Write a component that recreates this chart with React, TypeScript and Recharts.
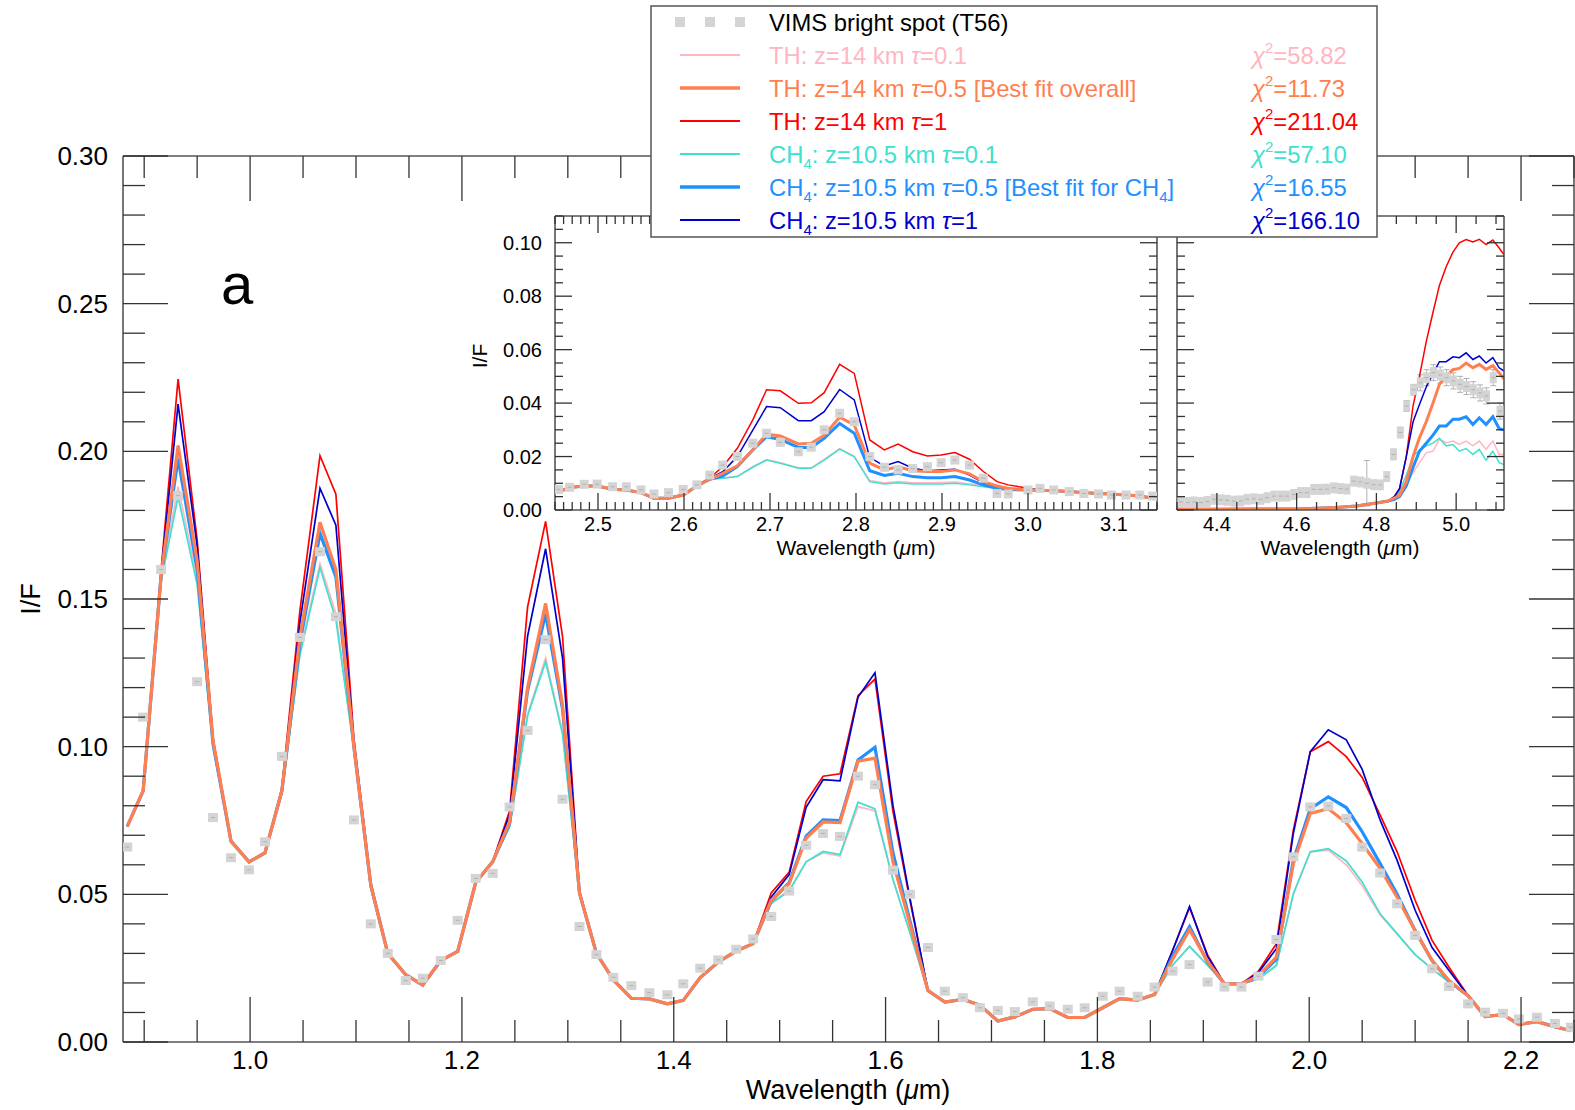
import React from 'react';
import { ComposedChart, Line, XAxis, YAxis, ErrorBar } from 'recharts';

const FONT = '"Liberation Sans", Arial, Helvetica, sans-serif';
const FRAME = '#555555';
const TICK = '#333333';
const C = { pink: '#ffb6c1', coral: '#ff7f50', red: '#ff0000', turq: '#40e0d0', dodger: '#1e90ff', navy: '#0000cd', gray: '#d4d4d4' };

// ---------------- main panel (0.88 - 2.25 um) ----------------
const mainWavelength = [0.884, 0.899, 0.916, 0.932, 0.950, 0.965, 0.982, 0.999, 1.014, 1.030,
  1.047, 1.066, 1.081, 1.098, 1.114, 1.130, 1.147, 1.163, 1.180, 1.196,
  1.213, 1.229, 1.245, 1.262, 1.279, 1.295, 1.311, 1.327, 1.343, 1.360,
  1.377, 1.394, 1.409, 1.425, 1.442, 1.459, 1.475, 1.492, 1.509, 1.525,
  1.541, 1.557, 1.574, 1.590, 1.607, 1.623, 1.640, 1.656, 1.673, 1.689,
  1.706, 1.722, 1.739, 1.755, 1.772, 1.788, 1.805, 1.821, 1.838, 1.854,
  1.871, 1.887, 1.904, 1.920, 1.936, 1.952, 1.969, 1.985, 2.001, 2.018,
  2.035, 2.050, 2.067, 2.083, 2.100, 2.116, 2.132, 2.150, 2.166, 2.183,
  2.198, 2.215, 2.232, 2.247];
const mainVims = [0.0660, 0.1100, 0.1600, 0.1850, 0.1220, 0.0760, 0.0624, 0.0583, 0.0678, 0.0967,
  0.1370, 0.1660, 0.1440, 0.0752, 0.0400, 0.0300, 0.0208, 0.0216, 0.0276, 0.0412,
  0.0554, 0.0571, 0.0796, 0.1055, 0.1362, 0.0822, 0.0391, 0.0296, 0.0219, 0.0191,
  0.0167, 0.0160, 0.0197, 0.0250, 0.0278, 0.0314, 0.0349, 0.0425, 0.0511, 0.0666,
  0.0706, 0.0696, 0.0900, 0.0871, 0.0582, 0.0500, 0.0320, 0.0172, 0.0150, 0.0116,
  0.0107, 0.0103, 0.0136, 0.0122, 0.0111, 0.0116, 0.0155, 0.0172, 0.0155, 0.0186,
  0.0240, 0.0262, 0.0203, 0.0186, 0.0186, 0.0223, 0.0347, 0.0627, 0.0796, 0.0799,
  0.0757, 0.0660, 0.0572, 0.0468, 0.0361, 0.0248, 0.0188, 0.0129, 0.0101, 0.0097,
  0.0078, 0.0084, 0.0063, 0.0050];
const mainThTau05 = [0.0730, 0.0850, 0.1580, 0.2020, 0.1630, 0.1020, 0.0680, 0.0610, 0.0640, 0.0850,
  0.1370, 0.1760, 0.1600, 0.1000, 0.0530, 0.0300, 0.0228, 0.0193, 0.0276, 0.0307,
  0.0540, 0.0610, 0.0745, 0.1200, 0.1485, 0.1140, 0.0505, 0.0300, 0.0210, 0.0148,
  0.0146, 0.0129, 0.0141, 0.0218, 0.0271, 0.0308, 0.0333, 0.0480, 0.0536, 0.0690,
  0.0745, 0.0743, 0.0951, 0.0961, 0.0610, 0.0400, 0.0174, 0.0135, 0.0144, 0.0125,
  0.0071, 0.0085, 0.0111, 0.0113, 0.0083, 0.0083, 0.0116, 0.0147, 0.0142, 0.0161,
  0.0280, 0.0380, 0.0273, 0.0197, 0.0197, 0.0223, 0.0288, 0.0604, 0.0774, 0.0790,
  0.0742, 0.0672, 0.0587, 0.0490, 0.0377, 0.0276, 0.0208, 0.0157, 0.0086, 0.0093,
  0.0059, 0.0069, 0.0052, 0.0038];
const mainThTau1 = [0.0730, 0.0850, 0.1600, 0.2245, 0.1700, 0.1030, 0.0680, 0.0610, 0.0640, 0.0860,
  0.1460, 0.1985, 0.1855, 0.1030, 0.0540, 0.0300, 0.0228, 0.0193, 0.0276, 0.0307,
  0.0540, 0.0610, 0.0782, 0.1473, 0.1763, 0.1373, 0.0510, 0.0300, 0.0210, 0.0148,
  0.0146, 0.0129, 0.0141, 0.0218, 0.0271, 0.0308, 0.0333, 0.0505, 0.0575, 0.0814,
  0.0900, 0.0908, 0.1173, 0.1229, 0.0780, 0.0480, 0.0174, 0.0135, 0.0144, 0.0125,
  0.0071, 0.0085, 0.0111, 0.0113, 0.0083, 0.0083, 0.0116, 0.0147, 0.0142, 0.0161,
  0.0310, 0.0455, 0.0295, 0.0197, 0.0197, 0.0240, 0.0333, 0.0717, 0.0983, 0.1017,
  0.0966, 0.0896, 0.0768, 0.0644, 0.0480, 0.0344, 0.0253, 0.0157, 0.0086, 0.0093,
  0.0059, 0.0069, 0.0052, 0.0038];
const mainCh4Tau1 = [0.0730, 0.0850, 0.1590, 0.2160, 0.1680, 0.1020, 0.0680, 0.0610, 0.0640, 0.0850,
  0.1420, 0.1875, 0.1750, 0.1010, 0.0530, 0.0300, 0.0228, 0.0193, 0.0276, 0.0307,
  0.0540, 0.0610, 0.0770, 0.1374, 0.1670, 0.1300, 0.0510, 0.0300, 0.0210, 0.0148,
  0.0146, 0.0129, 0.0141, 0.0218, 0.0271, 0.0308, 0.0333, 0.0490, 0.0567, 0.0795,
  0.0888, 0.0884, 0.1168, 0.1250, 0.0800, 0.0487, 0.0174, 0.0135, 0.0144, 0.0125,
  0.0071, 0.0085, 0.0111, 0.0113, 0.0083, 0.0083, 0.0116, 0.0147, 0.0142, 0.0161,
  0.0310, 0.0459, 0.0290, 0.0197, 0.0197, 0.0235, 0.0316, 0.0706, 0.0983, 0.1057,
  0.1023, 0.0923, 0.0751, 0.0615, 0.0446, 0.0320, 0.0242, 0.0157, 0.0086, 0.0093,
  0.0059, 0.0069, 0.0052, 0.0038];
const mainCh4Tau05 = [0.0730, 0.0850, 0.1580, 0.1976, 0.1600, 0.1010, 0.0680, 0.0610, 0.0640, 0.0850,
  0.1350, 0.1722, 0.1575, 0.1000, 0.0530, 0.0300, 0.0228, 0.0193, 0.0276, 0.0307,
  0.0540, 0.0610, 0.0740, 0.1190, 0.1450, 0.1128, 0.0505, 0.0300, 0.0210, 0.0148,
  0.0146, 0.0129, 0.0141, 0.0218, 0.0271, 0.0308, 0.0333, 0.0478, 0.0540, 0.0697,
  0.0752, 0.0750, 0.0955, 0.0998, 0.0640, 0.0410, 0.0174, 0.0135, 0.0144, 0.0125,
  0.0071, 0.0085, 0.0111, 0.0113, 0.0083, 0.0083, 0.0116, 0.0147, 0.0142, 0.0161,
  0.0290, 0.0391, 0.0270, 0.0197, 0.0197, 0.0220, 0.0280, 0.0615, 0.0790, 0.0830,
  0.0794, 0.0712, 0.0604, 0.0500, 0.0377, 0.0276, 0.0205, 0.0157, 0.0086, 0.0093,
  0.0059, 0.0069, 0.0052, 0.0038];
const mainCh4Tau01 = [0.0730, 0.0850, 0.1560, 0.1847, 0.1550, 0.1000, 0.0680, 0.0610, 0.0640, 0.0840,
  0.1310, 0.1606, 0.1430, 0.0990, 0.0520, 0.0300, 0.0228, 0.0193, 0.0276, 0.0307,
  0.0540, 0.0610, 0.0727, 0.1104, 0.1288, 0.1042, 0.0500, 0.0300, 0.0210, 0.0148,
  0.0146, 0.0129, 0.0141, 0.0218, 0.0271, 0.0308, 0.0333, 0.0470, 0.0511, 0.0610,
  0.0645, 0.0635, 0.0812, 0.0789, 0.0550, 0.0370, 0.0174, 0.0135, 0.0144, 0.0125,
  0.0071, 0.0085, 0.0111, 0.0113, 0.0083, 0.0083, 0.0116, 0.0147, 0.0142, 0.0161,
  0.0260, 0.0324, 0.0260, 0.0197, 0.0197, 0.0213, 0.0259, 0.0502, 0.0644, 0.0655,
  0.0613, 0.0542, 0.0434, 0.0367, 0.0296, 0.0248, 0.0203, 0.0157, 0.0086, 0.0093,
  0.0059, 0.0069, 0.0052, 0.0038];
const mainThTau01 = [0.0730, 0.0850, 0.1570, 0.1880, 0.1570, 0.1000, 0.0680, 0.0610, 0.0640, 0.0840,
  0.1320, 0.1620, 0.1450, 0.0990, 0.0520, 0.0300, 0.0228, 0.0193, 0.0276, 0.0307,
  0.0540, 0.0610, 0.0730, 0.1110, 0.1300, 0.1050, 0.0500, 0.0300, 0.0210, 0.0148,
  0.0146, 0.0129, 0.0141, 0.0218, 0.0271, 0.0308, 0.0333, 0.0470, 0.0515, 0.0610,
  0.0640, 0.0630, 0.0797, 0.0782, 0.0550, 0.0370, 0.0174, 0.0135, 0.0144, 0.0125,
  0.0071, 0.0085, 0.0111, 0.0113, 0.0083, 0.0083, 0.0116, 0.0147, 0.0142, 0.0161,
  0.0260, 0.0324, 0.0260, 0.0197, 0.0197, 0.0213, 0.0260, 0.0500, 0.0644, 0.0650,
  0.0600, 0.0530, 0.0430, 0.0365, 0.0295, 0.0248, 0.0203, 0.0157, 0.0086, 0.0093,
  0.0059, 0.0069, 0.0052, 0.0038];

// ---------------- inset 1 (2.45 - 3.15 um) ----------------
const inset1Wavelength = [2.454, 2.467, 2.484, 2.499, 2.517, 2.533, 2.550, 2.565, 2.582, 2.599,
  2.615, 2.630, 2.645, 2.662, 2.680, 2.696, 2.712, 2.733, 2.748, 2.763,
  2.781, 2.798, 2.816, 2.833, 2.849, 2.866, 2.883, 2.899, 2.915, 2.932,
  2.948, 2.964, 2.977, 3.000, 3.014, 3.030, 3.048, 3.065, 3.082, 3.097,
  3.114, 3.130, 3.145];
const inset1Vims = [0.0077, 0.0085, 0.0096, 0.0097, 0.0087, 0.0087, 0.0075, 0.0060, 0.0065, 0.0077,
  0.0094, 0.0131, 0.0168, 0.0200, 0.0250, 0.0287, 0.0253, 0.0218, 0.0235, 0.0300,
  0.0362, 0.0330, 0.0200, 0.0160, 0.0150, 0.0155, 0.0162, 0.0177, 0.0187, 0.0168,
  0.0119, 0.0062, 0.0060, 0.0075, 0.0081, 0.0075, 0.0069, 0.0062, 0.0060, 0.0056,
  0.0056, 0.0056, 0.0052];
const inset1ThTau05 = [0.0068, 0.0084, 0.0090, 0.0090, 0.0078, 0.0075, 0.0065, 0.0044, 0.0044, 0.0056,
  0.0090, 0.0115, 0.0137, 0.0165, 0.0225, 0.0284, 0.0277, 0.0247, 0.0250, 0.0280,
  0.0347, 0.0318, 0.0175, 0.0150, 0.0162, 0.0147, 0.0144, 0.0144, 0.0150, 0.0135,
  0.0106, 0.0090, 0.0081, 0.0075, 0.0074, 0.0072, 0.0069, 0.0065, 0.0062, 0.0060,
  0.0056, 0.0052, 0.0044];
const inset1ThTau1 = [0.0068, 0.0084, 0.0090, 0.0090, 0.0078, 0.0075, 0.0065, 0.0044, 0.0044, 0.0056,
  0.0092, 0.0120, 0.0162, 0.0231, 0.0337, 0.0450, 0.0446, 0.0399, 0.0401, 0.0439,
  0.0545, 0.0511, 0.0262, 0.0225, 0.0247, 0.0218, 0.0202, 0.0206, 0.0215, 0.0190,
  0.0144, 0.0106, 0.0094, 0.0081, 0.0076, 0.0073, 0.0069, 0.0065, 0.0062, 0.0060,
  0.0056, 0.0052, 0.0044];
const inset1Ch4Tau1 = [0.0068, 0.0084, 0.0090, 0.0090, 0.0078, 0.0075, 0.0065, 0.0044, 0.0044, 0.0056,
  0.0091, 0.0118, 0.0143, 0.0200, 0.0299, 0.0387, 0.0383, 0.0334, 0.0334, 0.0368,
  0.0451, 0.0412, 0.0196, 0.0165, 0.0181, 0.0156, 0.0147, 0.0150, 0.0152, 0.0131,
  0.0102, 0.0088, 0.0080, 0.0075, 0.0074, 0.0072, 0.0069, 0.0065, 0.0062, 0.0060,
  0.0056, 0.0052, 0.0044];
const inset1Ch4Tau05 = [0.0068, 0.0084, 0.0090, 0.0090, 0.0078, 0.0075, 0.0065, 0.0044, 0.0044, 0.0056,
  0.0090, 0.0115, 0.0127, 0.0162, 0.0225, 0.0274, 0.0264, 0.0234, 0.0234, 0.0268,
  0.0324, 0.0287, 0.0147, 0.0129, 0.0137, 0.0125, 0.0121, 0.0121, 0.0125, 0.0112,
  0.0094, 0.0081, 0.0077, 0.0075, 0.0074, 0.0072, 0.0069, 0.0065, 0.0062, 0.0060,
  0.0056, 0.0052, 0.0044];
const inset1Ch4Tau01 = [0.0068, 0.0084, 0.0090, 0.0090, 0.0078, 0.0075, 0.0065, 0.0044, 0.0044, 0.0056,
  0.0090, 0.0115, 0.0119, 0.0125, 0.0160, 0.0187, 0.0175, 0.0156, 0.0156, 0.0187,
  0.0228, 0.0199, 0.0106, 0.0097, 0.0102, 0.0097, 0.0097, 0.0097, 0.0100, 0.0094,
  0.0087, 0.0080, 0.0077, 0.0075, 0.0074, 0.0072, 0.0069, 0.0065, 0.0062, 0.0060,
  0.0056, 0.0052, 0.0044];
const inset1ThTau01 = [0.0068, 0.0084, 0.0090, 0.0090, 0.0078, 0.0075, 0.0065, 0.0044, 0.0044, 0.0056,
  0.0090, 0.0115, 0.0120, 0.0126, 0.0162, 0.0189, 0.0177, 0.0158, 0.0158, 0.0189,
  0.0230, 0.0201, 0.0110, 0.0102, 0.0107, 0.0102, 0.0102, 0.0103, 0.0105, 0.0098,
  0.0089, 0.0081, 0.0077, 0.0075, 0.0074, 0.0072, 0.0069, 0.0065, 0.0062, 0.0060,
  0.0056, 0.0052, 0.0044];

// ---------------- inset 2 (4.30 - 5.12 um) ----------------
const inset2VimsWavelength = [4.310, 4.327, 4.343, 4.360, 4.376, 4.393, 4.410, 4.426, 4.443, 4.460,
  4.476, 4.493, 4.510, 4.526, 4.543, 4.560, 4.576, 4.593, 4.610, 4.626,
  4.643, 4.660, 4.676, 4.693, 4.710, 4.726, 4.743, 4.760, 4.776, 4.793,
  4.810, 4.826, 4.843, 4.860, 4.876, 4.893, 4.910, 4.926, 4.943, 4.960,
  4.976, 4.993, 5.010, 5.026, 5.043, 5.060, 5.076, 5.093, 5.110];
const inset2Vims = [0.0030, 0.0028, 0.0030, 0.0028, 0.0032, 0.0040, 0.0038, 0.0036, 0.0033, 0.0034,
  0.0040, 0.0042, 0.0040, 0.0046, 0.0052, 0.0052, 0.0052, 0.0058, 0.0065, 0.0065,
  0.0077, 0.0077, 0.0078, 0.0083, 0.0080, 0.0078, 0.0108, 0.0105, 0.0100, 0.0095,
  0.0094, 0.0125, 0.0208, 0.0290, 0.0389, 0.0450, 0.0476, 0.0495, 0.0514, 0.0505,
  0.0495, 0.0483, 0.0470, 0.0462, 0.0450, 0.0438, 0.0427, 0.0495, 0.0370];
const inset2VimsErr = [0.0012, 0.0012, 0.0012, 0.0012, 0.0012, 0.0012, 0.0012, 0.0012, 0.0012, 0.0012,
  0.0012, 0.0012, 0.0012, 0.0012, 0.0012, 0.0012, 0.0012, 0.0012, 0.0012, 0.0012,
  0.0012, 0.0012, 0.0012, 0.0012, 0.0012, 0.0012, 0.0012, 0.0012, 0.0085, 0.0015,
  0.0015, 0.0015, 0.0020, 0.0020, 0.0020, 0.0020, 0.0030, 0.0030, 0.0030, 0.0030,
  0.0030, 0.0030, 0.0030, 0.0030, 0.0030, 0.0030, 0.0030, 0.0030, 0.0030];
const inset2ModelWavelength = [4.300, 4.400, 4.500, 4.600, 4.650, 4.700, 4.750, 4.800, 4.830, 4.845,
  4.858, 4.875, 4.892, 4.908, 4.925, 4.942, 4.958, 4.975, 4.992, 5.008,
  5.025, 5.042, 5.058, 5.075, 5.092, 5.108, 5.120];
const inset2ThTau05 = [0.0003, 0.0003, 0.0004, 0.0004, 0.0007, 0.0009, 0.0015, 0.0026, 0.0034, 0.0045,
  0.0055, 0.0105, 0.0200, 0.0270, 0.0330, 0.0400, 0.0470, 0.0500, 0.0525, 0.0530,
  0.0550, 0.0532, 0.0545, 0.0526, 0.0540, 0.0513, 0.0490];
const inset2ThTau1 = [0.0003, 0.0003, 0.0004, 0.0004, 0.0007, 0.0009, 0.0015, 0.0026, 0.0034, 0.0050,
  0.0080, 0.0200, 0.0390, 0.0500, 0.0630, 0.0740, 0.0840, 0.0910, 0.0965, 0.1000,
  0.1012, 0.1003, 0.1013, 0.0993, 0.1010, 0.0980, 0.0955];
const inset2Ch4Tau1 = [0.0003, 0.0003, 0.0004, 0.0004, 0.0007, 0.0009, 0.0015, 0.0026, 0.0034, 0.0050,
  0.0080, 0.0200, 0.0330, 0.0395, 0.0460, 0.0510, 0.0555, 0.0555, 0.0573, 0.0570,
  0.0588, 0.0563, 0.0576, 0.0550, 0.0570, 0.0532, 0.0520];
const inset2Ch4Tau05 = [0.0003, 0.0003, 0.0004, 0.0004, 0.0007, 0.0009, 0.0015, 0.0026, 0.0034, 0.0040,
  0.0050, 0.0090, 0.0160, 0.0220, 0.0250, 0.0280, 0.0314, 0.0314, 0.0340, 0.0340,
  0.0349, 0.0320, 0.0345, 0.0320, 0.0349, 0.0304, 0.0300];
const inset2Ch4Tau01 = [0.0003, 0.0003, 0.0004, 0.0004, 0.0007, 0.0009, 0.0015, 0.0026, 0.0034, 0.0050,
  0.0070, 0.0130, 0.0200, 0.0225, 0.0240, 0.0250, 0.0268, 0.0240, 0.0245, 0.0220,
  0.0230, 0.0208, 0.0227, 0.0186, 0.0220, 0.0177, 0.0170];
const inset2ThTau01 = [0.0003, 0.0003, 0.0004, 0.0004, 0.0007, 0.0009, 0.0015, 0.0026, 0.0034, 0.0050,
  0.0065, 0.0100, 0.0140, 0.0177, 0.0214, 0.0220, 0.0264, 0.0252, 0.0258, 0.0245,
  0.0258, 0.0240, 0.0258, 0.0227, 0.0258, 0.0208, 0.0208];

// ---------------- tick configuration ----------------
const mainXMajorLabels = [1.0, 1.2, 1.4, 1.6, 1.8, 2.0, 2.2];
const mainYMajorLabels = [0.0, 0.05, 0.10, 0.15, 0.20, 0.25, 0.30];
const inset1XMajorLabels = [2.5, 2.6, 2.7, 2.8, 2.9, 3.0, 3.1];
const insetYMajorLabels = [0.0, 0.02, 0.04, 0.06, 0.08, 0.10];
const inset2XMajorLabels = [4.4, 4.6, 4.8, 5.0];

const seq = (a: number, b: number, s: number) => {
  const out: number[] = [];
  const n = Math.round((b - a) / s);
  for (let i = 0; i <= n; i++) out.push(+(a + i * s).toFixed(4));
  return out;
};
const mainXTicks = seq(0.9, 2.25, 0.05);
const mainYTicks = seq(0, 0.3, 0.01);
const inset1XTicks = seq(2.45, 3.15, 0.01);
const insetYTicks = seq(0, 0.11, 0.005);
const inset2XTicks = seq(4.3, 5.1, 0.05);

// ---------------- rows ----------------
const mainRows = mainWavelength.map((w, i) => ({
  w, vims: mainVims[i], th01: mainThTau01[i], th05: mainThTau05[i], th1: mainThTau1[i],
  ch01: mainCh4Tau01[i], ch05: mainCh4Tau05[i], ch1: mainCh4Tau1[i],
}));
const inset1Rows = inset1Wavelength.map((w, i) => ({
  w, vims: inset1Vims[i], th01: inset1ThTau01[i], th05: inset1ThTau05[i], th1: inset1ThTau1[i],
  ch01: inset1Ch4Tau01[i], ch05: inset1Ch4Tau05[i], ch1: inset1Ch4Tau1[i],
}));
const inset2VimsRows = inset2VimsWavelength.map((w, i) => ({ w, vims: inset2Vims[i], err: inset2VimsErr[i] }));
const inset2ModelRows = inset2ModelWavelength.map((w, i) => ({
  w, th01: inset2ThTau01[i], th05: inset2ThTau05[i], th1: inset2ThTau1[i],
  ch01: inset2Ch4Tau01[i], ch05: inset2Ch4Tau05[i], ch1: inset2Ch4Tau1[i],
}));

// ---------------- helpers ----------------
const inList = (v: number, list: number[]) => list.some((m) => Math.abs(m - v) < 1e-6);

type TickOpts = {
  side: 'bottom' | 'top' | 'left' | 'right';
  majors: number[];
  majorLen: number;
  minorLen: number;
  label?: boolean;
  offset?: number;
  fontSize?: number;
  digits?: number;
};

const makeTick = (o: TickOpts) => (props: any) => {
  const { x, y, payload } = props;
  const v = Number(payload.value);
  const major = inList(v, o.majors);
  const len = major ? o.majorLen : o.minorLen;
  let x2 = x;
  let y2 = y;
  if (o.side === 'bottom') y2 = y - len;
  if (o.side === 'top') y2 = y + len;
  if (o.side === 'left') x2 = x + len;
  if (o.side === 'right') x2 = x - len;
  let label: any = null;
  if (o.label && major) {
    if (o.side === 'bottom') {
      label = (
        <text x={x} y={y + (o.offset || 0)} textAnchor="middle" dominantBaseline="central"
          fontSize={o.fontSize} fontFamily={FONT} fill="#000">{v.toFixed(o.digits || 1)}</text>
      );
    } else if (o.side === 'left') {
      label = (
        <text x={x - (o.offset || 0)} y={y} textAnchor="end" dominantBaseline="central"
          fontSize={o.fontSize} fontFamily={FONT} fill="#000">{v.toFixed(o.digits || 2)}</text>
      );
    }
  }
  return (
    <g>
      <line x1={x} y1={y} x2={x2} y2={y2} stroke={TICK} strokeWidth={1.3} />
      {label}
    </g>
  );
};

const axisLine = { stroke: FRAME, strokeWidth: 1.6 };

function frameAxes(cfg: {
  xDomain: [number, number]; yDomain: [number, number];
  xTicks: number[]; yTicks: number[]; xMajors: number[]; yMajors: number[];
  majorLen: number; minorLen: number; fontSize: number;
  xOffset: number; yOffset: number; yLabels: boolean; xDigits: number; yDigits: number;
}) {
  return [
    <XAxis key="xb" xAxisId={0} type="number" dataKey="w" domain={cfg.xDomain} allowDataOverflow
      ticks={cfg.xTicks} interval={0} height={1} tickSize={0} tickMargin={0} tickLine={false} axisLine={axisLine}
      tick={makeTick({ side: 'bottom', majors: cfg.xMajors, majorLen: cfg.majorLen, minorLen: cfg.minorLen, label: true, offset: cfg.xOffset, fontSize: cfg.fontSize, digits: cfg.xDigits })} />,
    <XAxis key="xt" xAxisId="top" orientation="top" type="number" dataKey="w" domain={cfg.xDomain} allowDataOverflow
      ticks={cfg.xTicks} interval={0} height={1} tickSize={0} tickMargin={0} tickLine={false} axisLine={axisLine}
      tick={makeTick({ side: 'top', majors: cfg.xMajors, majorLen: cfg.majorLen, minorLen: cfg.minorLen })} />,
    <YAxis key="yl" yAxisId={0} type="number" domain={cfg.yDomain} allowDataOverflow
      ticks={cfg.yTicks} interval={0} width={1} tickSize={0} tickMargin={0} tickLine={false} axisLine={axisLine}
      tick={makeTick({ side: 'left', majors: cfg.yMajors, majorLen: cfg.majorLen, minorLen: cfg.minorLen, label: cfg.yLabels, offset: cfg.yOffset, fontSize: cfg.fontSize, digits: cfg.yDigits })} />,
    <YAxis key="yr" yAxisId="right" orientation="right" type="number" domain={cfg.yDomain} allowDataOverflow
      ticks={cfg.yTicks} interval={0} width={1} tickSize={0} tickMargin={0} tickLine={false} axisLine={axisLine}
      tick={makeTick({ side: 'right', majors: cfg.yMajors, majorLen: cfg.majorLen, minorLen: cfg.minorLen })} />,
  ];
}

const squareDot = (w: number, h: number) => (p: any) => {
  if (p.cy == null || p.cx == null || isNaN(p.cy)) return <g key={`d${p.index}`} />;
  return (
    <g key={`d${p.index}`}>
      <rect x={p.cx - w / 2} y={p.cy - h / 2} width={w} height={h} fill={C.gray} />
      <line x1={p.cx - 2} x2={p.cx + 2} y1={p.cy} y2={p.cy} stroke="#a8a8a8" strokeWidth={0.8} />
    </g>
  );
};

function modelLines(thin: number, thick: number, data?: any[]) {
  const common: any = { type: 'linear', dot: false, activeDot: false, isAnimationActive: false };
  if (data) common.data = data;
  return [
    <Line key="th01" {...common} dataKey="th01" stroke={C.pink} strokeWidth={thin} />,
    <Line key="ch01" {...common} dataKey="ch01" stroke={C.turq} strokeWidth={thin} />,
    <Line key="th1" {...common} dataKey="th1" stroke={C.red} strokeWidth={thin} />,
    <Line key="ch1" {...common} dataKey="ch1" stroke={C.navy} strokeWidth={thin} />,
    <Line key="ch05" {...common} dataKey="ch05" stroke={C.dodger} strokeWidth={thick} />,
    <Line key="th05" {...common} dataKey="th05" stroke={C.coral} strokeWidth={thick} />,
  ];
}

// ---------------- legend overlay ----------------
const LEG_X0 = 680;
const LEG_X1 = 740;
const LEG_TX = 769;
const LEG_CX = 1252;
const LEG_FS = 23.8;

function Chi({ y, color, value }: { y: number; color: string; value: string }) {
  return (
    <text x={LEG_CX} y={y + 8.5} fontSize={LEG_FS} fontFamily={FONT} fill={color}>
      <tspan fontStyle="italic">χ</tspan>
      <tspan dy={-11} fontSize={15}>2</tspan>
      <tspan dy={11}>={value}</tspan>
    </text>
  );
}

function Legend() {
  const rows = [22, 55, 88, 121, 154, 187, 220];
  const t = (y: number) => y + 8.5;
  return (
    <g>
      <rect x={651} y={6} width={726} height={231} fill="#fff" stroke={FRAME} strokeWidth={1.5} />
      {[680, 710, 740].map((x) => (
        <rect key={x} x={x - 5} y={rows[0] - 5} width={10} height={10} fill={C.gray} />
      ))}
      <text x={LEG_TX} y={t(rows[0])} fontSize={LEG_FS} fontFamily={FONT} fill="#000">VIMS bright spot (T56)</text>

      <line x1={LEG_X0} x2={LEG_X1} y1={rows[1]} y2={rows[1]} stroke={C.pink} strokeWidth={2} />
      <text x={LEG_TX} y={t(rows[1])} fontSize={LEG_FS} fontFamily={FONT} fill={C.pink}>
        TH: z=14 km <tspan fontStyle="italic">τ</tspan>=0.1
      </text>
      <Chi y={rows[1]} color={C.pink} value="58.82" />

      <line x1={LEG_X0} x2={LEG_X1} y1={rows[2]} y2={rows[2]} stroke={C.coral} strokeWidth={3.5} />
      <text x={LEG_TX} y={t(rows[2])} fontSize={LEG_FS} fontFamily={FONT} fill={C.coral}>
        TH: z=14 km <tspan fontStyle="italic">τ</tspan>=0.5 [Best fit overall]
      </text>
      <Chi y={rows[2]} color={C.coral} value="11.73" />

      <line x1={LEG_X0} x2={LEG_X1} y1={rows[3]} y2={rows[3]} stroke={C.red} strokeWidth={2} />
      <text x={LEG_TX} y={t(rows[3])} fontSize={LEG_FS} fontFamily={FONT} fill={C.red}>
        TH: z=14 km <tspan fontStyle="italic">τ</tspan>=1
      </text>
      <Chi y={rows[3]} color={C.red} value="211.04" />

      <line x1={LEG_X0} x2={LEG_X1} y1={rows[4]} y2={rows[4]} stroke={C.turq} strokeWidth={2} />
      <text x={LEG_TX} y={t(rows[4])} fontSize={LEG_FS} fontFamily={FONT} fill={C.turq}>
        CH<tspan dy={6} fontSize={15}>4</tspan><tspan dy={-6}>: z=10.5 km </tspan><tspan fontStyle="italic">τ</tspan>=0.1
      </text>
      <Chi y={rows[4]} color={C.turq} value="57.10" />

      <line x1={LEG_X0} x2={LEG_X1} y1={rows[5]} y2={rows[5]} stroke={C.dodger} strokeWidth={3.5} />
      <text x={LEG_TX} y={t(rows[5])} fontSize={LEG_FS} fontFamily={FONT} fill={C.dodger}>
        CH<tspan dy={6} fontSize={15}>4</tspan><tspan dy={-6}>: z=10.5 km </tspan><tspan fontStyle="italic">τ</tspan>=0.5 [Best fit for CH<tspan dy={6} fontSize={15}>4</tspan><tspan dy={-6}>]</tspan>
      </text>
      <Chi y={rows[5]} color={C.dodger} value="16.55" />

      <line x1={LEG_X0} x2={LEG_X1} y1={rows[6]} y2={rows[6]} stroke={C.navy} strokeWidth={2} />
      <text x={LEG_TX} y={t(rows[6])} fontSize={LEG_FS} fontFamily={FONT} fill={C.navy}>
        CH<tspan dy={6} fontSize={15}>4</tspan><tspan dy={-6}>: z=10.5 km </tspan><tspan fontStyle="italic">τ</tspan>=1
      </text>
      <Chi y={rows[6]} color={C.navy} value="166.10" />
    </g>
  );
}

function WaveLabel({ x, y, fs }: { x: number; y: number; fs: number }) {
  return (
    <text x={x} y={y} textAnchor="middle" dominantBaseline="central" fontSize={fs} fontFamily={FONT} fill="#000">
      Wavelength (<tspan fontStyle="italic">μ</tspan>m)
    </text>
  );
}

export default function App() {
  return (
    <div style={{ position: 'absolute', left: 0, top: 0, width: 1575, height: 1110, background: '#fff', overflow: 'hidden' }}>
      {/* main panel: plot box x 123..1574, y 156..1042 */}
      <div style={{ position: 'absolute', left: 0, top: 0 }}>
        <ComposedChart width={1575} height={1110} data={mainRows} margin={{ top: 155, right: 0, bottom: 67, left: 122 }}>
          {frameAxes({
            xDomain: [0.88, 2.25], yDomain: [0, 0.3], xTicks: mainXTicks, yTicks: mainYTicks,
            xMajors: mainXMajorLabels, yMajors: mainYMajorLabels, majorLen: 45, minorLen: 22, fontSize: 26,
            xOffset: 18, yOffset: 15, yLabels: true, xDigits: 1, yDigits: 2,
          })}
          <Line dataKey="vims" stroke="none" isAnimationActive={false} activeDot={false} dot={squareDot(10, 9)} />
          {modelLines(1.7, 3.2)}
        </ComposedChart>
      </div>

      {/* inset 1: plot box x 555..1157, y 216..510 */}
      <div style={{ position: 'absolute', left: 555, top: 216, width: 602, height: 294, background: '#fff' }} />
      <div style={{ position: 'absolute', left: 460, top: 200 }}>
        <ComposedChart width={720} height={360} data={inset1Rows} margin={{ top: 15, right: 22, bottom: 49, left: 94 }}>
          {frameAxes({
            xDomain: [2.45, 3.15], yDomain: [0, 0.11], xTicks: inset1XTicks, yTicks: insetYTicks,
            xMajors: inset1XMajorLabels, yMajors: insetYMajorLabels, majorLen: 17, minorLen: 8, fontSize: 20,
            xOffset: 14, yOffset: 13, yLabels: true, xDigits: 1, yDigits: 2,
          })}
          <Line dataKey="vims" stroke="none" isAnimationActive={false} activeDot={false} dot={squareDot(9, 9)} />
          {modelLines(1.5, 3)}
        </ComposedChart>
      </div>

      {/* inset 2: plot box x 1177..1504, y 216..510 */}
      <div style={{ position: 'absolute', left: 1177, top: 216, width: 327, height: 294, background: '#fff' }} />
      <div style={{ position: 'absolute', left: 1160, top: 200 }}>
        <ComposedChart width={360} height={360} margin={{ top: 15, right: 15, bottom: 49, left: 16 }}>
          {frameAxes({
            xDomain: [4.3, 5.12], yDomain: [0, 0.11], xTicks: inset2XTicks, yTicks: insetYTicks,
            xMajors: inset2XMajorLabels, yMajors: insetYMajorLabels, majorLen: 17, minorLen: 8, fontSize: 20,
            xOffset: 14, yOffset: 13, yLabels: false, xDigits: 1, yDigits: 2,
          })}
          <Line data={inset2VimsRows} dataKey="vims" stroke="none" isAnimationActive={false} activeDot={false} dot={squareDot(7, 11)}>
            <ErrorBar dataKey="err" width={3} strokeWidth={1} stroke="#b0b0b0" direction="y" />
          </Line>
          {modelLines(1.5, 3, inset2ModelRows)}
        </ComposedChart>
      </div>

      {/* text overlay */}
      <svg width={1575} height={1110} style={{ position: 'absolute', left: 0, top: 0, pointerEvents: 'none' }}>
        <text x={221} y={304} fontSize={58} fontFamily={FONT} fill="#000">a</text>
        <WaveLabel x={848} y={1090} fs={27} />
        <text transform="translate(31,599) rotate(-90)" textAnchor="middle" dominantBaseline="central" fontSize={27} fontFamily={FONT} fill="#000">I/F</text>
        <WaveLabel x={856} y={547} fs={21} />
        <text transform="translate(479,356) rotate(-90)" textAnchor="middle" dominantBaseline="central" fontSize={21} fontFamily={FONT} fill="#000">I/F</text>
        <WaveLabel x={1340} y={547} fs={21} />
        <Legend />
      </svg>
    </div>
  );
}
